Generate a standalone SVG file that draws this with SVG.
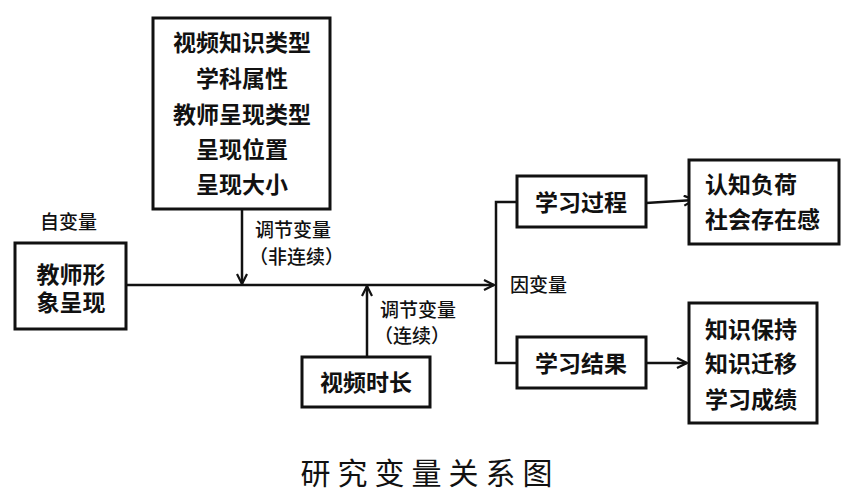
<svg xmlns="http://www.w3.org/2000/svg" width="849" height="496" viewBox="0 0 849 496">
<style>
.box{fill:#fff;stroke:#111;stroke-width:3}
.bt{font-family:"Liberation Sans","Noto Sans CJK SC",sans-serif;font-weight:bold;font-size:23px;fill:#111;text-anchor:middle;dominant-baseline:central}
.bl{font-family:"Liberation Sans","Noto Sans CJK SC",sans-serif;font-weight:bold;font-size:23px;fill:#111;dominant-baseline:central}
.lb{font-family:"Liberation Sans","Noto Sans CJK SC",sans-serif;font-weight:500;font-size:19px;fill:#111;dominant-baseline:central}
.ln{fill:none;stroke:#111;stroke-width:2.5}
.title{font-family:"Liberation Serif","Noto Sans CJK SC",serif;font-size:30px;letter-spacing:7px;fill:#111;text-anchor:middle;dominant-baseline:central}
</style>
<defs>
<marker id="ah" viewBox="0 0 12 12" refX="11" refY="6" markerWidth="12" markerHeight="12" markerUnits="userSpaceOnUse" orient="auto">
<path d="M1,1 L11,6 L1,11" fill="none" stroke="#111" stroke-width="2.2"/>
</marker>
</defs>
<rect width="849" height="496" fill="#fff"/>
<g id="connectors">
<path class="ln" d="M126,285 L494,285" marker-end="url(#ah)"/>
<path class="ln" d="M242,209 L242,284" marker-end="url(#ah)"/>
<path class="ln" d="M367,357 L367,286" marker-end="url(#ah)"/>
<path class="ln" d="M517,202 L496,202 L496,363 L517,363"/>
<path class="ln" d="M646,203 L694,200" marker-end="url(#ah)"/>
<path class="ln" d="M646,363 L687,363" marker-end="url(#ah)"/>
</g>
<g id="moderators">
<rect class="box" x="153" y="18" width="177" height="191"/>
<text class="bt" x="242" y="43">视频知识类型</text>
<text class="bt" x="242" y="79">学科属性</text>
<text class="bt" x="242" y="115">教师呈现类型</text>
<text class="bt" x="242" y="150">呈现位置</text>
<text class="bt" x="242" y="185">呈现大小</text>
</g>
<g id="iv-label"><text class="lb" x="40" y="222">自变量</text></g>
<g id="iv">
<rect class="box" x="15" y="243" width="111" height="86"/>
<text class="bt" x="71" y="275">教师形</text>
<text class="bt" x="71" y="303">象呈现</text>
</g>
<g id="mod1-label">
<text class="lb" x="255" y="230">调节变量</text>
<text class="lb" x="249" y="257">（非连续）</text>
</g>
<g id="mod2-label">
<text class="lb" x="380" y="310">调节变量</text>
<text class="lb" x="374" y="336">（连续）</text>
</g>
<g id="duration">
<rect class="box" x="302" y="357" width="128" height="50"/>
<text class="bt" x="366" y="383">视频时长</text>
</g>
<g id="dv-label"><text class="lb" x="510" y="285">因变量</text></g>
<g id="process">
<rect class="box" x="517" y="176" width="129" height="51"/>
<text class="bt" x="581" y="203">学习过程</text>
</g>
<g id="result">
<rect class="box" x="517" y="337" width="129" height="51"/>
<text class="bt" x="581" y="364">学习结果</text>
</g>
<g id="process-out">
<rect class="box" x="689" y="160" width="150" height="84"/>
<text class="bl" x="705" y="185">认知负荷</text>
<text class="bl" x="705" y="220">社会存在感</text>
</g>
<g id="result-out">
<rect class="box" x="689" y="303" width="128" height="120"/>
<text class="bl" x="705" y="330">知识保持</text>
<text class="bl" x="705" y="364">知识迁移</text>
<text class="bl" x="705" y="400">学习成绩</text>
</g>
<text class="title" x="430" y="473">研究变量关系图</text>
</svg>
